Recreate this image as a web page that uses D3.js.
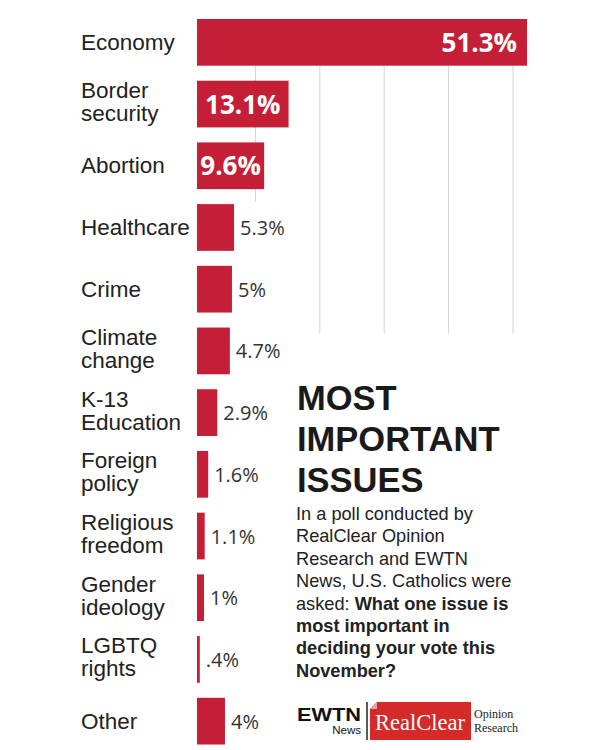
<!DOCTYPE html>
<html>
<head>
<meta charset="utf-8">
<script src="https://cdn.jsdelivr.net/npm/d3@7"></script>
<style>
  html, body { margin: 0; padding: 0; background: #fff; }
  svg { display: block; }
</style>
</head>
<body>
<script>
// ---- data ----
const categories = ["Economy", "Border\nsecurity", "Abortion", "Healthcare", "Crime", "Climate\nchange",
  "K-13\nEducation", "Foreign\npolicy", "Religious\nfreedom", "Gender\nideology", "LGBTQ\nrights", "Other"];
const values = [51.3, 13.1, 9.6, 5.3, 5, 4.7, 2.9, 1.6, 1.1, 1, 0.4, 4];
const valueLabels = ["51.3%", "13.1%", "9.6%", "5.3%", "5%", "4.7%", "2.9%", "1.6%", "1.1%", "1%", ".4%", "4%"];
const gridSteps = [1, 2, 3, 4, 5];
const titleLines = ["MOST", "IMPORTANT", "ISSUES"];
const subtitleLines = [
  [["In a poll conducted by", false]],
  [["RealClear Opinion", false]],
  [["Research and EWTN", false]],
  [["News, U.S. Catholics were", false]],
  [["asked: ", false], ["What one issue is", true]],
  [["most important in", true]],
  [["deciding your vote this", true]],
  [["November?", true]]
];

const W = 600, H = 750;
const RED = "#c41f36";
const svg = d3.select("body").append("svg").attr("width", W).attr("height", H);
svg.append("rect").attr("width", W).attr("height", H).attr("fill", "#fff");

const data = categories.map((c, i) => ({ cat: c, v: values[i], lab: valueLabels[i] }));

const y = d3.scaleBand().domain(categories).range([11.5, 752]).paddingInner(0.243).paddingOuter(0.1215);
const x = d3.scaleLinear().domain([0, 47.2]).range([197, 527]).clamp(true);
const grid = d3.scaleLinear().domain([0, 5]).range([191, 513]);

// gridlines
const gTop = y(categories[0]) + y.bandwidth();
svg.append("g").selectAll("line").data(gridSteps).join("line")
  .attr("x1", d => grid(d)).attr("x2", d => grid(d))
  .attr("y1", gTop)
  .attr("y2", d => d === 1 ? y(categories[3]) - 2 : y(categories[5]) + 6)
  .attr("stroke", "#d4d4d4").attr("stroke-width", 1);

// bars
svg.append("g").selectAll("rect").data(data).join("rect")
  .attr("x", x(0)).attr("y", d => y(d.cat))
  .attr("width", d => x(d.v) - x(0)).attr("height", y.bandwidth())
  .attr("fill", RED);

// category labels
const labG = svg.append("g").attr("font-family", "'Liberation Sans', Arial, sans-serif")
  .attr("font-size", 22.5).attr("fill", "#222");
data.forEach(d => {
  const lines = d.cat.split("\n");
  const cy = y(d.cat) + y.bandwidth() / 2;
  const t = labG.append("text").attr("x", 81);
  if (lines.length === 1) {
    t.attr("y", cy + 7.5).text(lines[0]);
  } else {
    t.append("tspan").attr("x", 81).attr("y", cy - 6).text(lines[0]);
    t.append("tspan").attr("x", 81).attr("y", cy + 17).text(lines[1]);
  }
});

// value labels
const valG = svg.append("g").attr("font-family", "'Open Sans', sans-serif");
data.forEach(d => {
  const cy = y(d.cat) + y.bandwidth() / 2;
  const inside = d.v >= 9;
  const t = valG.append("text").text(d.lab);
  if (inside) {
    t.attr("font-weight", 700).attr("font-size", 26).attr("fill", "#fff").attr("y", cy + 9.5);
    if (d.v > 20) t.attr("x", x(d.v) - 10).attr("text-anchor", "end");
    else t.attr("x", (x(0) + x(d.v)) / 2).attr("text-anchor", "middle");
  } else {
    t.attr("font-size", 20).attr("fill", "#333").attr("y", cy + 7.5)
      .attr("x", x(d.v) + 6);
  }
});

// title
const tg = svg.append("g").attr("font-family", "'Liberation Sans', Arial, sans-serif")
  .attr("font-weight", 700).attr("font-size", 34.5).attr("fill", "#1a1a1a");
titleLines.forEach((l, i) => tg.append("text").attr("x", 297).attr("y", 410 + i * 41).text(l));

// subtitle
const sg = svg.append("g").attr("font-family", "'Liberation Sans', Arial, sans-serif")
  .attr("font-size", 18.2).attr("fill", "#222");
subtitleLines.forEach((parts, i) => {
  const t = sg.append("text").attr("x", 296).attr("y", 520 + i * 22.4);
  parts.forEach(p => t.append("tspan").attr("font-weight", p[1] ? 700 : 400).text(p[0]));
});

// logos
const lg = svg.append("g");
lg.append("text").attr("x", 297).attr("y", 721).attr("font-family", "'Liberation Sans', Arial, sans-serif")
  .attr("font-weight", 700).attr("font-size", 19).attr("textLength", 64).attr("lengthAdjust", "spacingAndGlyphs")
  .attr("fill", "#111").text("EWTN");
lg.append("text").attr("x", 361).attr("y", 734).attr("text-anchor", "end")
  .attr("font-family", "'Liberation Sans', Arial, sans-serif").attr("font-size", 11.5).attr("fill", "#111").text("News");
lg.append("line").attr("x1", 367).attr("x2", 367).attr("y1", 702).attr("y2", 740).attr("stroke", "#222").attr("stroke-width", 1.5);
lg.append("polygon").attr("points", "377,702 471,702 471,740 370,740 370,709").attr("fill", "#d42a2a");
lg.append("polygon").attr("points", "370,709 377,702 377,709").attr("fill", "#e8a0a0");
lg.append("text").attr("x", 375).attr("y", 729.5).attr("font-family", "'Liberation Serif', 'Times New Roman', serif")
  .attr("font-size", 22.5).attr("fill", "#fff").text("RealClear");
lg.append("text").attr("x", 474).attr("y", 718).attr("font-family", "'Liberation Serif', 'Times New Roman', serif")
  .attr("font-size", 12).attr("fill", "#222").text("Opinion");
lg.append("text").attr("x", 474).attr("y", 732).attr("font-family", "'Liberation Serif', 'Times New Roman', serif")
  .attr("font-size", 12).attr("fill", "#222").text("Research");
</script>
</body>
</html>
